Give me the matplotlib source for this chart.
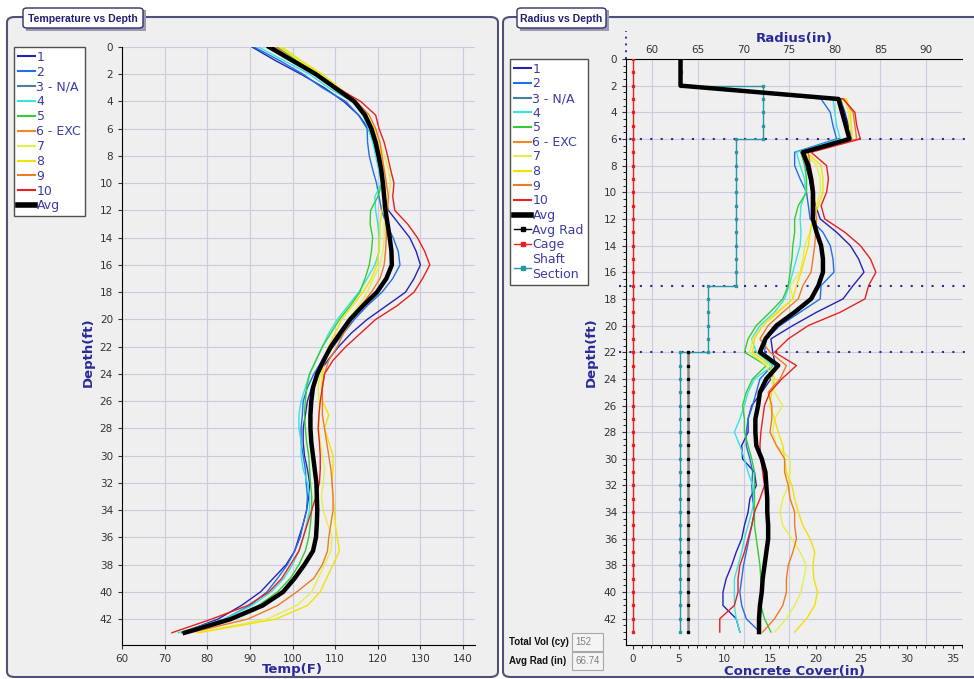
import numpy as np
import matplotlib.pyplot as plt
from matplotlib.patches import FancyBboxPatch, Rectangle
from matplotlib.lines import Line2D
from matplotlib.ticker import MultipleLocator

# ---------------- data ----------------
sensor_labels = ['1', '2', '3 - N/A', '4', '5', '6 - EXC', '7', '8', '9', '10']
sensor_colors = ['#2424b4', '#1f6fe8', '#4a7f9f', '#33e6e0', '#33cc33',
                 '#f08a20', '#e4f04a', '#f2e200', '#ee7a22', '#e82020']
plotted = ['1', '2', '4', '5', '7', '8', '9', '10']

# temperature (F) every foot, depth 0..43 ft
temp_depth = list(range(0, 44))
temp_1 = [90.5, 96, 102, 107.5, 112, 115.5, 117.8, 119, 119.8, 120.5, 121, 121.5, 122.5, 125, 127.5,
          129, 130, 128.5, 126.5, 122, 117.5, 113.8, 110.8, 108.3, 106, 104.5, 103.5, 103, 102.5,
          102.5, 102.8, 103.5, 104, 103.8, 103.3, 102.5, 101.5, 100.5, 98.5, 95.5, 92.5, 88, 82.5, 74]
temp_2 = [91, 97, 102.5, 107, 112.5, 115.5, 117.5, 117.6, 118, 118.8, 119.7, 120.3, 120.9, 122, 123.6,
          124.8, 125.2, 123.5, 121, 117.5, 114.5, 112, 109.5, 107, 105, 103.5, 102.5, 102.3, 102,
          102, 102.5, 103, 103.2, 103.5, 103.3, 102.5, 101.8, 100.5, 98.8, 96.5, 94, 90, 84, 74.5]
temp_4 = [92, 98, 104, 108.5, 114, 116.5, 117.8, 118.8, 119.5, 120.2, 120.8, 119.3, 119.5, 120, 120.3,
          120.3, 119.3, 117.5, 115.5, 113, 110.5, 108.5, 107, 105.5, 104, 103, 102, 101.5, 101.5,
          102, 102, 102.5, 103.5, 104, 104, 103.3, 102.5, 101.5, 100, 98, 95, 90.5, 84, 73.2]
temp_5 = [96.5, 101, 106, 110.5, 114.5, 117, 118.5, 119.5, 120.2, 120.7, 121, 120, 118.3, 118.2, 118.8,
          118.5, 118, 117, 115.8, 113.5, 111, 109, 107, 105.5, 104, 103.3, 103, 102.8, 103,
          103.3, 103.8, 104, 104.2, 104.5, 104.5, 104.2, 103.8, 103, 101.5, 99.5, 96.5, 92, 85, 75.5]
temp_7 = [97, 101.5, 106.5, 110.5, 114.8, 117.3, 119.2, 120.5, 121.5, 122.5, 123, 122.5, 122, 121.5, 121.5,
          121.2, 120.5, 119, 117.5, 115.5, 113, 111, 109, 107.5, 106.5, 106, 106.2, 106.3, 106.2,
          106.5, 107, 107.5, 107.2, 106.8, 107.2, 108.2, 109.3, 109, 107.5, 106, 104.5, 101, 94, 77.5]
temp_8 = [97.5, 102, 107, 111, 115, 117.5, 119, 120, 120.8, 121.5, 122, 121.5, 121, 120.5, 120.5,
          120.2, 119.8, 118.5, 116.5, 114, 111.5, 110, 108.5, 107.5, 107, 106.8, 107, 108.5, 107.5,
          108.5, 109.5, 109.5, 109.2, 109.5, 109.8, 110, 110.5, 111, 109.5, 108, 106.5, 103.5, 96, 78]
temp_9 = [96, 100.5, 105.5, 110, 115, 118, 119.5, 120.5, 121, 121.5, 122, 122.5, 122.3, 122, 122,
          121.8, 121.5, 120.5, 118.5, 116, 114, 112, 110.5, 108.5, 107.5, 107, 107, 107, 107.5,
          108, 108.5, 109, 109.3, 109.5, 109.5, 109, 108.5, 108.2, 107, 105, 101, 96.5, 89.5, 76]
temp_10 = [95.5, 100, 105, 110.5, 116, 119.5, 120.3, 121.5, 122.3, 123, 123.8, 123.5, 124, 127, 129.3,
           131, 132.2, 130.5, 128.5, 124.5, 119.5, 116, 112.5, 109.5, 107.5, 107, 106.5, 106.2, 106,
           106.3, 106.5, 106.5, 106.3, 105.5, 104.5, 103.5, 102.5, 101.5, 99.5, 97.5, 94.5, 89.5, 81, 71.7]
temp_avg = [94.5, 100, 105.5, 110, 114.5, 117, 118.5, 119.5, 120.2, 120.8, 121.2, 121.5, 121.8, 122.3, 122.8,
            123.2, 123.3, 122, 119.8, 116.5, 113.5, 111.2, 109, 107.3, 105.8, 104.8, 104.4, 104.2, 104.2,
            104.4, 104.8, 105.2, 105.6, 105.7, 105.8, 105.7, 105.5, 104.8, 102.8, 100.5, 97.8, 93, 85.5, 74.7]
temps = {'1': temp_1, '2': temp_2, '4': temp_4, '5': temp_5, '7': temp_7,
         '8': temp_8, '9': temp_9, '10': temp_10}

# radius (in) at depth 0, 2, 3..43 ft
radius_depth = [0, 2] + list(range(3, 44))
rad_1 = [63.1, 63.1, 80.6, 81.1, 81.5, 81.8, 76.3, 76.8, 77.2, 77.5, 77.9, 78.4,
         80.2, 81.7, 82.6, 83.2, 82.0, 80.9, 78.0, 75.4, 73.0, 73.2,
         73.5, 73.0, 72.0, 70.9, 70.5, 70.5, 69.8, 69.9, 71.2, 71.4,
         70.7, 70.5, 70.1, 69.8, 69.2, 68.7, 68.1, 67.75, 67.75, 69.2, 69.6]
rad_2 = [63.1, 63.1, 78.5, 79.5, 79.8, 80.2, 75.6, 75.6, 76.2, 76.9, 77.1, 77.3,
         78.7, 79.5, 79.8, 79.9, 78.5, 78.4, 76.2, 74.0, 72.5, 72.3,
         73.2, 71.8, 71.4, 71.0, 70.5, 70.3, 70.3, 70.7, 71.0, 70.9,
         71.0, 71.2, 70.9, 70.6, 70.3, 70.0, 69.8, 69.6, 69.8, 70.3, 71.8]
rad_4 = [63.1, 63.1, 79.8, 80.0, 80.2, 80.6, 75.8, 76.2, 76.7, 76.8, 76.3, 76.2,
         76.3, 76.2, 75.8, 75.4, 75.0, 74.5, 73.4, 71.8, 70.9, 71.4,
         73.2, 71.2, 70.5, 70.1, 69.6, 69.0, 69.6, 70.1, 70.5, 71.0,
         71.2, 70.9, 70.5, 70.1, 69.8, 69.4, 69.0, 69.0, 69.0, 69.2, 69.6]
rad_5 = [63.1, 63.1, 80.7, 80.9, 81.2, 81.5, 76.3, 76.7, 76.9, 76.9, 76.0, 75.6,
         75.6, 75.4, 75.3, 75.1, 74.9, 74.3, 72.9, 71.4, 70.5, 70.1,
         72.5, 71.0, 70.3, 69.9, 70.1, 70.1, 70.5, 70.9, 71.2, 71.2,
         71.2, 71.2, 71.2, 71.4, 71.6, 71.8, 71.9, 72.1, 71.9, 72.3, 73.0]
rad_7 = [63.1, 63.1, 81.1, 81.5, 81.6, 81.7, 76.7, 78.0, 78.4, 78.4, 78.0, 77.6,
         77.3, 76.7, 76.5, 76.2, 75.1, 75.4, 73.6, 72.1, 71.0,
         70.7, 72.5, 73.1, 73.4, 74.3, 73.4, 73.2, 73.6, 75.1, 75.1,
         74.9, 74.3, 74.0, 74.3, 75.3, 76.2, 76.9, 76.6, 76.3, 75.6, 74.7, 73.4]
rad_8 = [63.1, 63.1, 81.3, 81.7, 81.8, 81.9, 76.9, 78.5, 78.7, 78.7, 78.2, 77.6,
         77.3, 77.1, 76.7, 76.3, 75.8, 75.4, 73.8, 72.1, 71.2,
         71.0, 72.9, 73.4, 73.1, 72.9, 73.4, 73.8, 74.3, 74.5, 74.7,
         75.3, 75.6, 76.0, 76.5, 77.3, 77.8, 77.6, 77.7, 78.1, 77.8, 76.9, 75.6]
rad_9 = [63.1, 63.1, 81.0, 82.0, 82.2, 82.4, 77.1, 77.3, 77.6, 77.8, 77.8, 78.0,
         77.9, 77.8, 77.6, 77.4, 76.5, 76.0, 74.3, 72.7, 71.8, 72.9,
         74.7, 74.0, 72.7, 73.1, 73.1, 72.9, 73.6, 74.5, 74.5, 74.9,
         75.1, 75.6, 75.6, 75.8, 75.4, 74.9, 74.7, 74.7, 74.3, 73.4, 72.1]
rad_10 = [63.1, 63.1, 80.9, 82.2, 82.4, 82.8, 77.4, 79.1, 79.3, 79.1, 78.5, 78.9,
          81.1, 82.8, 83.9, 84.5, 83.7, 83.3, 80.6, 77.1, 74.9, 73.4,
          75.8, 74.2, 72.9, 72.3, 72.1, 71.9, 71.8, 71.9, 72.1, 72.3,
          71.8, 71.2, 70.9, 70.5, 70.1, 69.6, 69.4, 69.4, 69.0, 67.4, 67.4]
rad_avg = [63.1, 63.1, 80.4, 80.8, 81.2, 81.6, 76.5, 77.1, 77.4, 77.6, 77.6, 77.6,
           78.0, 78.5, 78.7, 78.7, 78.2, 77.4, 75.6, 73.6, 72.4, 71.8,
           73.8, 72.5, 71.8, 71.6, 71.3, 71.3, 71.4, 72.0, 72.4, 72.5,
           72.6, 72.6, 72.7, 72.7, 72.5, 72.3, 72.1, 72.0, 71.8, 71.7, 71.7]
radii = {'1': rad_1, '2': rad_2, '4': rad_4, '5': rad_5, '7': rad_7,
         '8': rad_8, '9': rad_9, '10': rad_10}

cage_radius = 57.9          # concrete cover = radius - cage radius
shaft_bounds = [0, 2, 6, 17, 22, 43]
shaft_radius = [63.1, 72.1, 69.2, 66.1, 63.0]
section_lines = [6, 17, 22]
avg_rad_bounds = [22, 43]
avg_rad_value = 63.9
total_vol = '152'
avg_rad_text = '66.74'

# ---------------- figure ----------------
W, H = 974, 679
fig = plt.figure(figsize=(W / 100, H / 100), dpi=100)
fig.patch.set_facecolor('white')
plt.rcParams['font.family'] = ['DejaVu Sans']

def fx(p):
    return p / W

def fy(p):
    return 1 - p / H

navy = '#2a2a9a'
grid_c = '#cacae0'
tab_font = ['Liberation Sans', 'DejaVu Sans']

# panels
for x0, x1 in [(7, 498), (503, 990)]:
    fig.patches.append(FancyBboxPatch((fx(x0), fy(677)), fx(x1) - fx(x0), fy(17) - fy(677),
                                      boxstyle='round,pad=0,rounding_size=0.008',
                                      fc='#efefef', ec='#50507a', lw=1.5,
                                      transform=fig.transFigure, zorder=-5))

# title tabs
for x0, x1, txt in [(23, 143, 'Temperature vs Depth'), (517, 606, 'Radius vs Depth')]:
    fig.patches.append(Rectangle((fx(x0 + 3), fy(31)), fx(x1) - fx(x0), fy(10) - fy(31),
                                 fc='#9a9ab4', ec='none', transform=fig.transFigure, zorder=-4))
    fig.patches.append(FancyBboxPatch((fx(x0), fy(28)), fx(x1) - fx(x0), fy(8) - fy(28),
                                      boxstyle='round,pad=0,rounding_size=0.004',
                                      fc='white', ec='#30306a', lw=1.0,
                                      transform=fig.transFigure, zorder=-3))
    fig.text(fx((x0 + x1) / 2), fy(18.5), txt, ha='center', va='center', family=tab_font,
             fontsize=7.6, fontweight='bold', color='#202070', zorder=3)

# ---------------- left: temperature ----------------
axL = fig.add_axes([fx(122), fy(645), fx(475) - fx(122), fy(47) - fy(645)])
axL.set_facecolor('none')
axL.set_zorder(2)
for s in plotted:
    axL.plot(temps[s], temp_depth, color=sensor_colors[sensor_labels.index(s)], lw=1.0, zorder=3)
axL.plot(temp_avg, temp_depth, color='black', lw=3.2, zorder=4)
axL.set_xlim(60, 142.8)
axL.set_ylim(43.9, 0)
axL.xaxis.set_major_locator(MultipleLocator(10))
axL.set_yticks(range(0, 43, 2))
axL.grid(True, color=grid_c, lw=0.8, zorder=0)
for sp in ['top', 'right']:
    axL.spines[sp].set_visible(False)
axL.tick_params(labelsize=7.5, colors='#333333', length=3, width=0.8)
axL.set_xlabel('Temp(F)', fontsize=9.5, fontweight='bold', color=navy)
axL.xaxis.set_label_coords(0.484, -0.03)
axL.set_ylabel('Depth(ft)', fontsize=9.5, fontweight='bold', color=navy)
axL.yaxis.set_label_coords(-0.078, 0.49)

hL = [Line2D([], [], color=c, lw=1.5) for c in sensor_colors] + [Line2D([], [], color='black', lw=4)]
legL = fig.legend(hL, sensor_labels + ['Avg'], loc='upper left',
                  bbox_to_anchor=(fx(14), fy(47)), bbox_transform=fig.transFigure,
                  borderaxespad=0, fontsize=9, labelcolor='#3c3ca0', handlelength=1.4,
                  handletextpad=0.1, labelspacing=0.15, borderpad=0.3, fancybox=False,
                  framealpha=1, edgecolor='#505050')
legL.get_frame().set_linewidth(1.0)

# ---------------- right: radius ----------------
axR = fig.add_axes([fx(626), fy(645), fx(962) - fx(626), fy(59) - fy(645)])
axR.set_facecolor('none')
axR.set_zorder(2)

# cage
cage_d = np.arange(0, 44)
axR.plot(np.full(len(cage_d), cage_radius), cage_d, color='#e82020', lw=1.0,
         marker='s', ms=1.7, zorder=3)
# shaft section
sx, sy = [], []
for i, r in enumerate(shaft_radius):
    sx += [r, r]
    sy += [shaft_bounds[i], shaft_bounds[i + 1]]
axR.plot(sx, sy, color='#2a95a5', lw=1.0, zorder=3)
for i, r in enumerate(shaft_radius):
    dd = np.arange(shaft_bounds[i], shaft_bounds[i + 1] + 1)
    axR.plot(np.full(len(dd), r), dd, ls='none', marker='s', ms=1.7, color='#2a95a5', zorder=3)
# average radius
ad = np.arange(avg_rad_bounds[0], avg_rad_bounds[1] + 1)
axR.plot(np.full(len(ad), avg_rad_value), ad, color='#888888', lw=1.8, zorder=3)
axR.plot(np.full(len(ad), avg_rad_value), ad, ls='none', marker='s', ms=1.8, color='black', zorder=3)

for s in plotted:
    axR.plot(radii[s], radius_depth, color=sensor_colors[sensor_labels.index(s)], lw=1.0, zorder=4)
axR.plot(rad_avg, radius_depth, color='black', lw=3.2, zorder=5)

for d in section_lines:
    axR.axhline(d, color='#2828a0', lw=1.5, ls=(0, (1, 4)), zorder=2, clip_on=False,
                xmin=-0.02, xmax=1.03)

axR.set_xlim(cage_radius - 0.77, cage_radius + 36.03)
axR.set_ylim(43.97, 0)
axR.xaxis.tick_top()
axR.set_xticks([60, 65, 70, 75, 80, 85, 90])
axR.set_yticks(range(0, 43, 2))
axR.yaxis.set_minor_locator(MultipleLocator(0.5))
axR.grid(True, color=grid_c, lw=0.8, zorder=0)
axR.spines['right'].set_visible(False)
axR.spines['bottom'].set_visible(False)
axR.tick_params(labelsize=7.5, colors='#333333', length=3, width=0.8)
axR.tick_params(axis='y', which='minor', length=2, width=0.6)
axR.tick_params(axis='x', length=0, pad=3)
axR.set_xlabel('Radius(in)', fontsize=9.5, fontweight='bold', color=navy, labelpad=2)
axR.xaxis.set_label_position('top')
axR.set_ylabel('Depth(ft)', fontsize=9.5, fontweight='bold', color=navy)
axR.yaxis.set_label_coords(-0.085, 0.5)
axR.plot([0, 0], [1, 1.048], transform=axR.transAxes, color='#2828a0', lw=1.4,
         ls=(0, (1, 2.5)), clip_on=False)

secx = axR.secondary_xaxis('bottom', functions=(lambda r: r - cage_radius, lambda c: c + cage_radius))
secx.set_xticks([0, 5, 10, 15, 20, 25, 30, 35])
secx.xaxis.set_minor_locator(MultipleLocator(1))
secx.tick_params(labelsize=7.5, colors='#333333', length=3, width=0.8)
secx.tick_params(which='minor', length=2, width=0.6)
secx.set_xlabel('Concrete Cover(in)', fontsize=9.5, fontweight='bold', color=navy, labelpad=1)

hR = [Line2D([], [], color=c, lw=1.5) for c in sensor_colors]
hR += [Line2D([], [], color='black', lw=4),
       Line2D([], [], color='black', lw=1, marker='s', ms=3),
       Line2D([], [], color='#e82020', lw=1, marker='s', ms=3),
       Line2D([], [], color='#2a95a5', lw=1, marker='s', ms=3)]
legR = fig.legend(hR, sensor_labels + ['Avg', 'Avg Rad', 'Cage', 'Shaft\nSection'], loc='upper left',
                  bbox_to_anchor=(fx(510), fy(59)), bbox_transform=fig.transFigure,
                  borderaxespad=0, fontsize=9, labelcolor='#3c3ca0', handlelength=1.4,
                  handletextpad=0.1, labelspacing=0.13, borderpad=0.3, fancybox=False,
                  framealpha=1, edgecolor='#505050')
legR.get_frame().set_linewidth(1.0)

# summary boxes
for y0, label, val in [(642, 'Total Vol (cy)', total_vol), (661, 'Avg Rad (in)', avg_rad_text)]:
    fig.text(fx(509), fy(y0), label, fontsize=7, fontweight='bold', color='#111111',
             va='center', family=tab_font)
    fig.patches.append(Rectangle((fx(572), fy(y0 + 9)), fx(603) - fx(572), fy(y0 - 9) - fy(y0 + 9),
                                 fc='#f4f4f4', ec='#a8a8a8', lw=0.8, transform=fig.transFigure))
    fig.text(fx(575), fy(y0), val, fontsize=7, color='#808080', va='center', family=tab_font)

fig.savefig('out.png', dpi=100)
